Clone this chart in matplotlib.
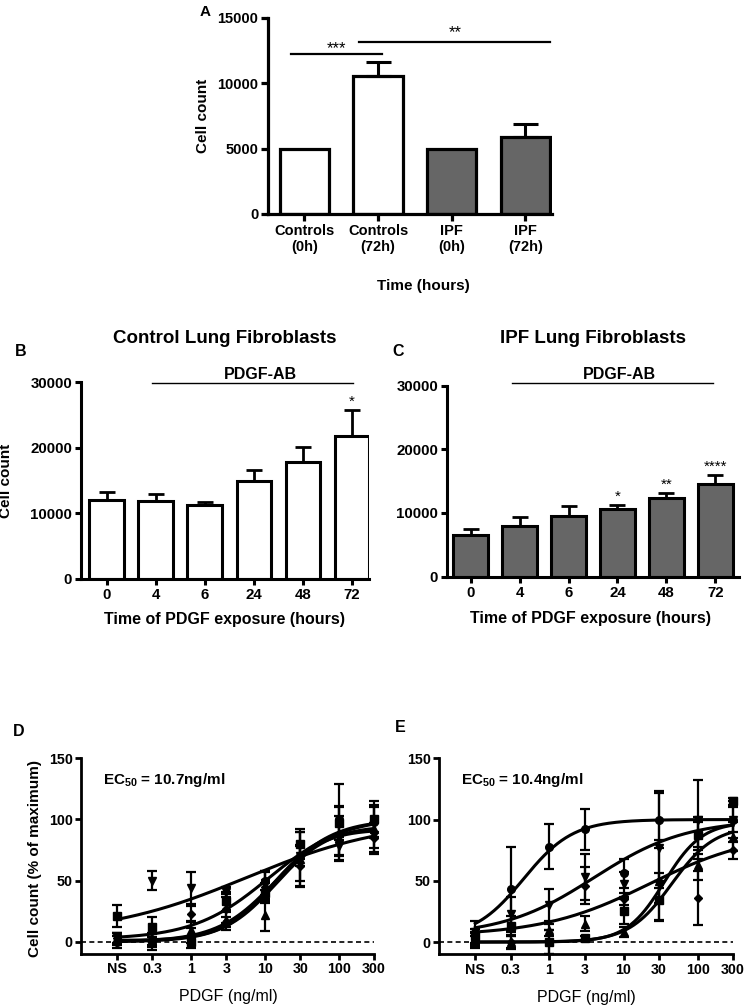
import numpy as np
import matplotlib
matplotlib.use('Agg')
import matplotlib.pyplot as plt

plt.rcParams['font.family'] = ['Liberation Sans', 'DejaVu Sans']
plt.rcParams['mathtext.fontset'] = 'custom'
plt.rcParams['mathtext.rm'] = 'Liberation Sans:bold'
plt.rcParams['mathtext.it'] = 'Liberation Sans:bold'
plt.rcParams['mathtext.bf'] = 'Liberation Sans:bold'

# ---------------- data ----------------
# Panel A
a_labels = ['Controls\n(0h)', 'Controls\n(72h)', 'IPF\n(0h)', 'IPF\n(72h)']
a_values = [4950, 10570, 4950, 5890]
a_errors = [0, 1050, 0, 980]
a_group = ['Control', 'Control', 'IPF', 'IPF']

# Panels B / C
time_labels = ['0', '4', '6', '24', '48', '72']
b_values = [12000, 11830, 11260, 14960, 17760, 21720]
b_errors = [1240, 1060, 510, 1580, 2380, 3960]
b_stars = ['', '', '', '', '', '*']
c_values = [6600, 7950, 9580, 10630, 12410, 14520]
c_errors = [830, 1470, 1470, 580, 740, 1510]
c_stars = ['', '', '', '*', '**', '****']

# Panels D / E  (dose-response)
dose_values = [0.1, 0.3, 1, 3, 10, 30, 100, 300]
dose_labels = ['NS', '0.3', '1', '3', '10', '30', '100', '300']
series_markers = ['v', 's', 'o', '^', 'D']

d_tri_down = [3, 50, 44, 41, 48, 70, 78, 87]
d_tri_down_err = [4, 8, 13, 4, 10, 8, 8, 10]
d_square = [21, 12, 0, 33, 40, 80, 97, 100]
d_square_err = [9, 8, 5, 8, 8, 12, 14, 15]
d_circle = [0, 0, 5, 15, 50, 70, 100, 98]
d_circle_err = [5, 7, 6, 5, 8, 20, 29, 12]
d_tri_up = [2, 1, 10, 18, 22, 68, 85, 92]
d_tri_up_err = [5, 5, 6, 6, 13, 22, 18, 20]
d_diamond = [3, 2, 23, 27, 45, 62, 88, 85]
d_diamond_err = [4, 5, 6, 12, 12, 17, 22, 12]
# fitted 4-parameter logistic curves (bottom, top, logEC50, hill)
d_bottom = [5, 2, 0, 0, 1]
d_top = [100, 102, 100, 95, 92]
d_logec50 = [0.75, 1.05, 1.15, 1.15, 1.1]
d_hill = [0.45, 0.85, 1.1, 1.2, 1.3]

e_circle = [0, 43, 78, 92, 56, 100, 88, 100]
e_circle_err = [5, 35, 18, 17, 12, 23, 10, 10]
e_tri_down = [8, 23, 30, 53, 47, 77, 100, 100]
e_tri_down_err = [9, 14, 13, 19, 10, 45, 32, 15]
e_diamond = [2, 0, 0, 46, 35, 50, 36, 75]
e_diamond_err = [5, 6, 10, 15, 5, 33, 22, 7]
e_square = [5, 13, 0, 3, 25, 34, 87, 115]
e_square_err = [6, 8, 10, 2, 10, 16, 15, 3]
e_tri_up = [3, 0, 10, 15, 8, 50, 63, 86]
e_tri_up_err = [5, 5, 5, 6, 4, 6, 12, 12]
e_bottom = [3, 5, 5, 0, 0]
e_top = [100, 100, 90, 98, 95]
e_logec50 = [-0.35, 0.6, 1.35, 1.55, 1.65]
e_hill = [1.3, 0.7, 0.6, 1.7, 1.5]

# ---------------- drawing ----------------
W, H = 745, 1006
fig = plt.figure(figsize=(W / 100, H / 100), dpi=100)
GRAY = '#666666'


def axes_px(l, r, t, b):
    return fig.add_axes([l / W, 1 - b / H, (r - l) / W, (b - t) / H])


def style(ax, lw=2.2, ticklen=4.5, labelsize=10):
    for s in ['top', 'right']:
        ax.spines[s].set_visible(False)
    for s in ['left', 'bottom']:
        ax.spines[s].set_linewidth(lw)
    ax.tick_params(width=lw, length=ticklen, direction='out', labelsize=labelsize, pad=2)
    for lab in ax.get_xticklabels() + ax.get_yticklabels():
        lab.set_fontweight('bold')


# ---- Panel A ----
axA = axes_px(268, 552, 18, 214)
xa = np.arange(len(a_labels))
colA = ['white' if g == 'Control' else GRAY for g in a_group]
axA.bar(xa, a_values, width=0.67, color=colA, edgecolor='black', linewidth=2.3, zorder=2)
for xi, v, e in zip(xa, a_values, a_errors):
    if e > 0:
        axA.errorbar([xi], [v], yerr=[[0], [e]], fmt='none', ecolor='black',
                     elinewidth=2.2, capsize=9, capthick=2.2, zorder=3)
axA.set_xlim(-0.495, 3.36)
axA.set_ylim(0, 15000)
axA.set_yticks([0, 5000, 10000, 15000])
axA.set_xticks(xa)
axA.set_xticklabels(a_labels)
style(axA, lw=2.3, ticklen=5, labelsize=10.5)
axA.set_ylabel('Cell count', fontsize=11, fontweight='bold')
axA.yaxis.set_label_coords(-0.205, 0.5)
axA.set_xlabel('Time (hours)', fontsize=11, fontweight='bold')
axA.xaxis.set_label_coords(0.546, -0.33)
axA.plot([-0.18, 1.05], [12250, 12250], color='black', lw=1.6, clip_on=False)
axA.text(0.43, 12350, '***', ha='center', va='baseline', fontsize=12)
axA.plot([0.74, 3.33], [13160, 13160], color='black', lw=1.6, clip_on=False)
axA.text(2.04, 13560, '**', ha='center', va='baseline', fontsize=12)
fig.text(205 / W, 1 - 12 / H, 'A', ha='center', va='center', fontsize=11, fontweight='bold')


# ---- Panels B / C ----
def bar_panel(ax, values, errors, stars, color, xlim):
    x = np.arange(len(values))
    ax.bar(x, values, width=0.7, color=color, edgecolor='black', linewidth=2.2, zorder=2)
    ax.errorbar(x, values, yerr=[np.zeros(len(errors)), errors], fmt='none', ecolor='black',
                elinewidth=2.0, capsize=6, capthick=2.0, zorder=3)
    for xi, v, e, s in zip(x, values, errors, stars):
        if s:
            ax.text(xi, v + e + 650, s, ha='center', va='baseline', fontsize=11)
    ax.set_xlim(*xlim)
    ax.set_ylim(0, 30000)
    ax.set_yticks([0, 10000, 20000, 30000])
    ax.set_xticks(x)
    ax.set_xticklabels(time_labels)
    style(ax, lw=2.2, ticklen=4.5, labelsize=10.8)
    ax.set_xlabel('Time of PDGF exposure (hours)', fontsize=11.5, fontweight='bold')


axB = axes_px(81, 369, 382, 579)
bar_panel(axB, b_values, b_errors, b_stars, 'white', (-0.52, 5.35))
axB.xaxis.set_label_coords(0.5, -0.17)
axB.set_ylabel('Cell count', fontsize=11, fontweight='bold')
axB.yaxis.set_label_coords(-0.237, 0.5)
axB.text(0.5, 1 + (382 - 343) / 197, 'Control Lung Fibroblasts', transform=axB.transAxes,
         ha='center', va='baseline', fontsize=13.5, fontweight='bold')
axB.plot([0.92, 5.03], [29830, 29830], color='black', lw=1.0, clip_on=False)
axB.text(3.13, 30450, 'PDGF-AB', ha='center', va='baseline', fontsize=11.5, fontweight='bold')
fig.text(21 / W, 1 - 352 / H, 'B', ha='center', va='center', fontsize=11.5, fontweight='bold')

axC = axes_px(447, 739, 386, 576.5)
bar_panel(axC, c_values, c_errors, c_stars, GRAY, (-0.48, 5.48))
axC.xaxis.set_label_coords(0.49, -0.18)
axC.text(0.5, 1 + (386 - 343) / 190.5, 'IPF Lung Fibroblasts', transform=axC.transAxes,
         ha='center', va='baseline', fontsize=13.5, fontweight='bold')
axC.plot([0.85, 4.94], [30430, 30430], color='black', lw=1.0, clip_on=False)
axC.text(3.04, 31100, 'PDGF-AB', ha='center', va='baseline', fontsize=11.5, fontweight='bold')
fig.text(398 / W, 1 - 352 / H, 'C', ha='center', va='center', fontsize=11.5, fontweight='bold')


# ---- Panels D / E ----
def hill(x, bottom, top, logec50, h):
    return bottom + (top - bottom) / (1 + 10 ** ((logec50 - np.log10(x)) * h))


def dose_panel(ax, means, errs, bottoms, tops, logecs, hills, ec50_text):
    xc = np.logspace(np.log10(dose_values[0]), np.log10(dose_values[-1]), 300)
    for b, t, l, h in zip(bottoms, tops, logecs, hills):
        ax.plot(xc, hill(xc, b, t, l, h), color='black', lw=2.2, zorder=3, clip_on=False)
    for m, y, e in zip(series_markers, means, errs):
        ms = 4.5 if m == 'D' else 5.5
        ax.errorbar(dose_values, y, yerr=e, fmt=m, color='black', ms=ms, elinewidth=1.6,
                    capsize=3.5, capthick=1.6, zorder=4, clip_on=False)
    ax.axhline(0, color='black', lw=1.2, ls=(0, (3, 2)), zorder=1)
    ax.set_xscale('log')
    ax.set_xlim(10 ** -1.49, 300)
    ax.set_ylim(-10, 150)
    ax.set_yticks([0, 50, 100, 150])
    ax.set_xticks(dose_values)
    ax.set_xticklabels(dose_labels)
    ax.minorticks_off()
    style(ax, lw=2.0, ticklen=4, labelsize=10.3)
    ax.set_xlabel('PDGF (ng/ml)', fontsize=11.5)
    ax.xaxis.set_label_coords(0.502, -0.18)
    ax.text(0.075, 0.89, ec50_text, transform=ax.transAxes, ha='left', va='center',
            fontsize=11, fontweight='bold')


axD = axes_px(81, 374, 758.3, 954)
dose_panel(axD,
           [d_tri_down, d_square, d_circle, d_tri_up, d_diamond],
           [d_tri_down_err, d_square_err, d_circle_err, d_tri_up_err, d_diamond_err],
           d_bottom, d_top, d_logec50, d_hill, r'EC$_{50}$ = 10.7ng/ml')
axD.set_ylabel('Cell count (% of maximum)', fontsize=11, fontweight='bold')
axD.yaxis.set_label_coords(-0.133, 0.49)
fig.text(19 / W, 1 - 731 / H, 'D', ha='center', va='center', fontsize=11.5, fontweight='bold')

axE = axes_px(439, 733, 758.3, 954.3)
dose_panel(axE,
           [e_tri_down, e_square, e_circle, e_tri_up, e_diamond],
           [e_tri_down_err, e_square_err, e_circle_err, e_tri_up_err, e_diamond_err],
           [e_bottom[1], e_bottom[3], e_bottom[0], e_bottom[4], e_bottom[2]],
           [e_top[1], e_top[3], e_top[0], e_top[4], e_top[2]],
           [e_logec50[1], e_logec50[3], e_logec50[0], e_logec50[4], e_logec50[2]],
           [e_hill[1], e_hill[3], e_hill[0], e_hill[4], e_hill[2]],
           r'EC$_{50}$ = 10.4ng/ml')
fig.text(400 / W, 1 - 728 / H, 'E', ha='center', va='center', fontsize=11.5, fontweight='bold')

fig.savefig('out.png', dpi=100)
